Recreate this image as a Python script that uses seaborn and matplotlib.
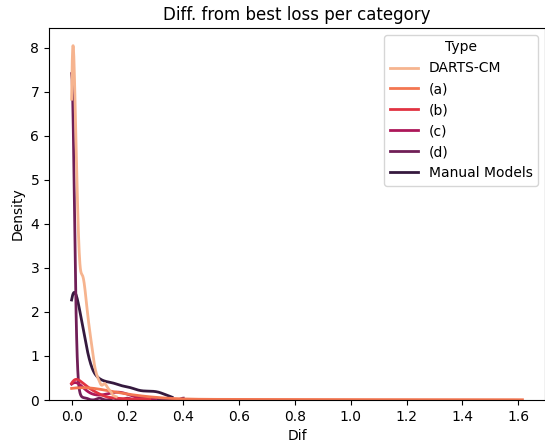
import matplotlib
matplotlib.use('Agg')
import matplotlib.pyplot as plt
import seaborn as sns
import numpy as np
import pandas as pd

# ------------------------
# Data: difference from best loss (value, number of occurrences) per model type
# ------------------------
type_order = ['DARTS-CM', '(a)', '(b)', '(c)', '(d)', 'Manual Models']

darts_dif = [0.000, 0.004, 0.008, 0.012, 0.016, 0.020, 0.024, 0.028, 0.032, 0.036,
             0.040, 0.044, 0.048, 0.052, 0.056, 0.060, 0.064, 0.068, 0.072, 0.076,
             0.080, 0.084, 0.088, 0.092, 0.096, 0.100, 0.104, 0.108, 0.112, 0.116,
             0.120, 0.124, 0.128, 0.132, 0.136, 0.140, 0.148, 0.160]
darts_count = [60, 34, 31, 28, 22, 19, 14, 10, 10, 12,
               12, 11, 10, 9, 8, 7, 6, 6, 5, 4,
               3, 3, 2, 2, 2, 2, 1, 1, 1, 2,
               2, 1, 1, 1, 1, 1, 1, 1]

a_dif = [0.00, 0.01, 0.03, 0.05, 0.07, 0.09, 0.11, 0.13, 0.15, 0.17,
         0.19, 0.21, 0.23, 0.25, 0.27, 0.29, 0.32, 0.36, 0.42, 0.50,
         0.58, 0.62, 0.70, 0.80, 0.90, 1.00, 1.10, 1.20, 1.30, 1.40,
         1.50, 1.615]
a_count = [30, 7, 7, 7, 4, 4, 4, 3, 3, 3,
           3, 2, 2, 2, 1, 1, 1, 1, 1, 1,
           1, 1, 1, 1, 1, 1, 1, 1, 1, 1,
           1, 1]

b_dif = [0.00, 0.01, 0.02, 0.03, 0.04, 0.05, 0.06, 0.07, 0.08, 0.09,
         0.10, 0.11, 0.12, 0.14, 0.16, 0.19, 0.23, 0.28]
b_count = [8, 6, 5, 4, 4, 3, 3, 2, 2, 2,
           1, 1, 1, 1, 1, 1, 1, 1]

c_dif = [0.00, 0.01, 0.02, 0.03, 0.04, 0.05, 0.06, 0.07, 0.08, 0.09,
         0.10, 0.11, 0.12, 0.13, 0.14, 0.15, 0.16, 0.17, 0.18, 0.19,
         0.20, 0.21, 0.22, 0.24, 0.27, 0.30]
c_count = [12, 5, 4, 3, 3, 2, 1, 1, 1, 1,
           1, 1, 1, 1, 2, 2, 2, 2, 2, 2,
           1, 1, 1, 1, 1, 1]

d_dif = [0.000, 0.010, 0.020, 0.030, 0.050, 0.100, 0.150, 0.200, 0.300, 0.400]
d_count = [172, 4, 2, 1, 1, 1, 1, 1, 1, 1]

manual_dif = [0.000, 0.005, 0.010, 0.015, 0.020, 0.025, 0.030, 0.035, 0.040, 0.045,
              0.050, 0.055, 0.060, 0.065, 0.07, 0.08, 0.09, 0.10, 0.11, 0.12,
              0.13, 0.14, 0.15, 0.16, 0.17, 0.18, 0.19, 0.20, 0.21, 0.22,
              0.23, 0.24, 0.25, 0.26, 0.27, 0.28, 0.29, 0.30, 0.31, 0.32,
              0.33, 0.34, 0.35, 0.36]
manual_count = [75, 6, 6, 8, 9, 10, 11, 11, 10, 8,
                6, 4, 3, 2, 6, 5, 5, 5, 4, 4,
                4, 4, 4, 4, 3, 3, 3, 3, 3, 3,
                2, 2, 2, 2, 2, 2, 2, 2, 2, 2,
                1, 1, 1, 1]

groups = [(darts_dif, darts_count), (a_dif, a_count), (b_dif, b_count),
          (c_dif, c_count), (d_dif, d_count), (manual_dif, manual_count)]
df = pd.concat([pd.DataFrame({'Dif': np.repeat(dif, cnt), 'Type': name})
                for name, (dif, cnt) in zip(type_order, groups)], ignore_index=True)

# ------------------------
# Plot
# ------------------------
fig = plt.figure(figsize=(5.45, 4.44), dpi=100)
ax = fig.add_axes([0.090, 0.099, 0.910, 0.838])

sns.kdeplot(data=df, x='Dif', hue='Type', hue_order=type_order,
            palette='rocket_r', cut=0, bw_adjust=0.65, linewidth=2, ax=ax)

ax.set_title('Diff. from best loss per category')
ax.set_xlabel('Dif')
ax.set_ylabel('Density')

fig.savefig('out.png', dpi=100)
